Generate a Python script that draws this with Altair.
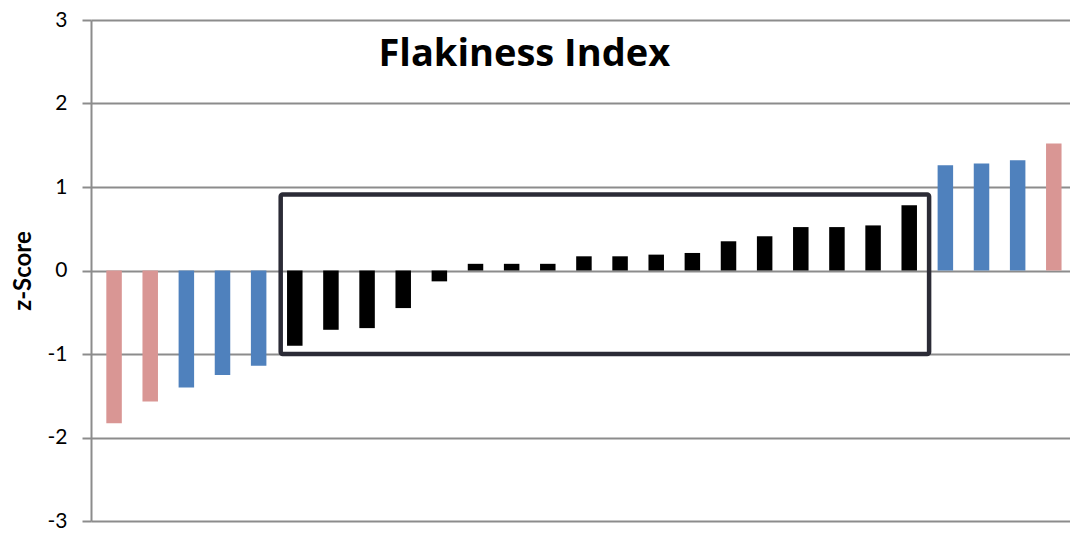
import altair as alt
import pandas as pd

values = [-1.83, -1.57, -1.40, -1.25, -1.14,
          -0.90, -0.71, -0.69, -0.45, -0.13, 0.08, 0.08, 0.08, 0.17, 0.17, 0.19,
          0.21, 0.35, 0.41, 0.52, 0.52, 0.54, 0.78,
          1.26, 1.28, 1.32, 1.52]
groups = ["pink", "pink", "blue", "blue", "blue"] + ["black"] * 18 + ["blue", "blue", "blue", "pink"]
positions = [i + 0.5 for i in range(len(values))]

box_x = [5.11]
box_x2 = [23.05]
box_y = [-1.0]
box_y2 = [0.91]

title_text = ["Flakiness Index"]
title_x = [11.85]
title_y = [2.45]

y_ticks = [-3, -2, -1, 0, 1, 2, 3]

# the reference plot runs past the right page edge; keep the bar step of the
# reference (about 36.5 px per category) while fitting the plot inside the page
x_domain_end = 26.81

df = pd.DataFrame({"pos": positions, "z": values, "group": groups})
box_df = pd.DataFrame({"x": box_x, "x2": box_x2, "y": box_y, "y2": box_y2})
title_df = pd.DataFrame({"label": title_text, "x": title_x, "y": title_y})

FONT = "Lato"

xscale = alt.Scale(domain=[0, x_domain_end], nice=False, zero=False)
yscale = alt.Scale(domain=[-3, 3], nice=False)

bars = alt.Chart(df).mark_bar(size=15.5).encode(
    x=alt.X("pos:Q", scale=xscale, axis=None),
    y=alt.Y("z:Q", scale=yscale,
            axis=alt.Axis(title="z-Score", values=y_ticks,
                          labelExpr="datum.value + ''",
                          grid=True, gridColor="#8c8c8c", gridWidth=2,
                          domain=True, domainColor="#8c8c8c", domainWidth=2,
                          ticks=True, tickColor="#8c8c8c", tickWidth=2, tickSize=9,
                          labelFont=FONT, labelFontSize=21, labelColor="#000000",
                          labelPadding=15,
                          titleFont=FONT, titleFontSize=24, titleFontWeight="bold",
                          titleColor="#000000", titlePadding=12)),
    y2=alt.datum(0),
    color=alt.Color("group:N",
                    scale=alt.Scale(domain=["pink", "blue", "black"],
                                    range=["#D99694", "#4F81BD", "#000000"]),
                    legend=None),
)

box = alt.Chart(box_df).mark_rect(
    fill=None, stroke="#2b2b36", strokeWidth=4.5, cornerRadius=2
).encode(
    x=alt.X("x:Q", scale=xscale),
    x2="x2:Q",
    y=alt.Y("y:Q", scale=yscale),
    y2="y2:Q",
)

title = alt.Chart(title_df).mark_text(
    font="Open Sans", fontSize=38, fontWeight="bold", color="#000000",
    align="center", baseline="alphabetic"
).encode(
    x=alt.X("x:Q", scale=xscale),
    y=alt.Y("y:Q", scale=yscale),
    text="label:N",
)

chart = alt.layer(bars, box, title).properties(
    width=979,
    height=501,
    autosize=alt.AutoSizeParams(type="none"),
    padding={"left": 83, "top": 12, "right": 0, "bottom": 12},
).configure_view(stroke=None).configure_axisX(grid=False)

chart.save("out.html", embed_options={"renderer": "svg", "actions": False})
